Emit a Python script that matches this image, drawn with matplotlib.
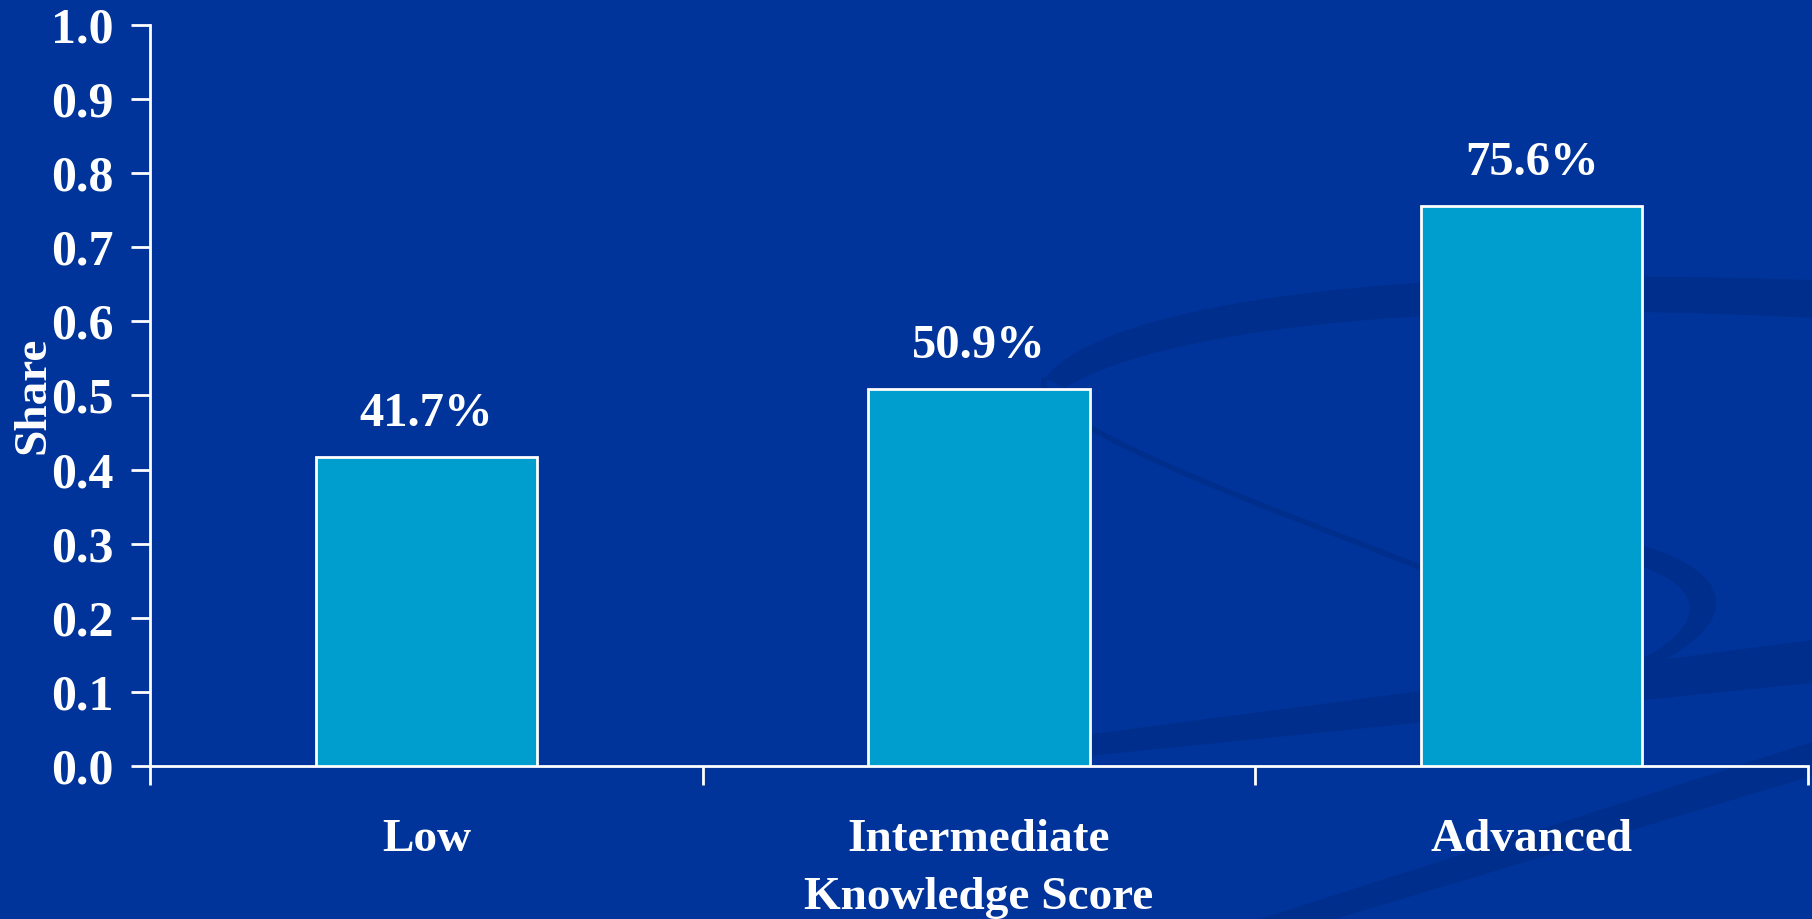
import matplotlib
matplotlib.use("Agg")
import matplotlib.pyplot as plt
from matplotlib.patches import PathPatch, Polygon
from matplotlib.path import Path
import numpy as np

categories = ["Low", "Intermediate", "Advanced"]
shares = [0.417, 0.509, 0.756]
value_labels = ["41.7%", "50.9%", "75.6%"]
y_ticks = [0.0, 0.1, 0.2, 0.3, 0.4, 0.5, 0.6, 0.7, 0.8, 0.9, 1.0]

BG = "#00349A"
SWOOSH = "#002E8C"
BAR = "#009DCF"
WHITE = "white"

plt.rcParams['font.family'] = ['Liberation Serif', 'DejaVu Serif']
plt.rcParams['font.weight'] = 'bold'

fig = plt.figure(figsize=(18.12, 9.19), dpi=100, facecolor=BG)

# decorative background swooshes (pixel coords of the figure)
bg = fig.add_axes([0, 0, 1, 1], zorder=0)
bg.set_xlim(0, 1812); bg.set_ylim(919, 0); bg.axis("off")

def shape(verts, codes):
    bg.add_patch(PathPatch(Path(verts, codes), facecolor=SWOOSH, edgecolor="none"))

M, C4, L, CL = Path.MOVETO, Path.CURVE4, Path.LINETO, Path.CLOSEPOLY
# upper arc
shape([(1045, 378), (1090, 320), (1300, 262), (1812, 280),
       (1812, 318), (1400, 296), (1150, 335), (1065, 388), (1045, 378)],
      [M, C4, C4, C4, L, C4, C4, C4, CL])
# thin line from the curl sweeping down-right behind the bar
bg.add_patch(PathPatch(Path([(1045, 378), (1025, 420), (1250, 500), (1440, 575)],
                            [M, C4, C4, C4]), facecolor="none", edgecolor=SWOOSH, linewidth=4))
# loop to the right of the advanced bar
shape([(1480, 528), (1690, 525), (1800, 600), (1640, 672),
       (1640, 660), (1745, 605), (1680, 548), (1480, 545), (1480, 528)],
      [M, C4, C4, C4, L, C4, C4, C4, CL])
# lower diagonal band (starts behind the intermediate bar)
bg.add_patch(Polygon([(1000, 746), (1812, 640), (1812, 683), (1000, 765)],
                     closed=True, facecolor=SWOOSH, edgecolor="none"))
# band below the axis
bg.add_patch(Polygon([(1260, 919), (1812, 742), (1812, 776), (1335, 919)],
                     closed=True, facecolor=SWOOSH, edgecolor="none"))

ax = fig.add_axes([0.0828, 0.1665, 0.915, 0.8063], zorder=1)
ax.set_facecolor("none")
x = np.arange(len(categories))
ax.bar(x, shares, width=0.4, color=BAR, edgecolor=WHITE, linewidth=2, zorder=3)

ax.set_xlim(-0.5, 2.5)
ax.set_ylim(0, 1.0)
ax.set_yticks(y_ticks)
ax.set_yticklabels([f"{v:.1f}" for v in y_ticks])
ax.set_xticks([-0.5, 0.5, 1.5, 2.5])
ax.set_xticklabels([])
ax.set_xticks(x, minor=True)
ax.set_xticklabels(categories, minor=True)
ax.tick_params(axis="x", which="minor", length=0, pad=38, labelsize=34, labelcolor=WHITE)
ax.tick_params(axis="x", which="major", length=14, width=2, color=WHITE, direction="out")
ax.tick_params(axis="y", length=14, width=2, color=WHITE, direction="out", pad=12,
               labelsize=36, labelcolor=WHITE)
for s in ["top", "right"]:
    ax.spines[s].set_visible(False)
for s in ["left", "bottom"]:
    ax.spines[s].set_color(WHITE)
    ax.spines[s].set_linewidth(2)

for xi, v, lab in zip(x, shares, value_labels):
    ax.annotate(lab, (xi, v), xytext=(0, 15), textcoords="offset points",
                ha="center", va="bottom", fontsize=35, color=WHITE, fontweight="bold")

ax.set_xlabel("Knowledge Score", fontsize=34, color=WHITE, fontweight="bold", labelpad=12)
ax.set_ylabel("Share", fontsize=34, color=WHITE, fontweight="bold", labelpad=-2)

fig.savefig("out.png", dpi=100, facecolor=BG)
